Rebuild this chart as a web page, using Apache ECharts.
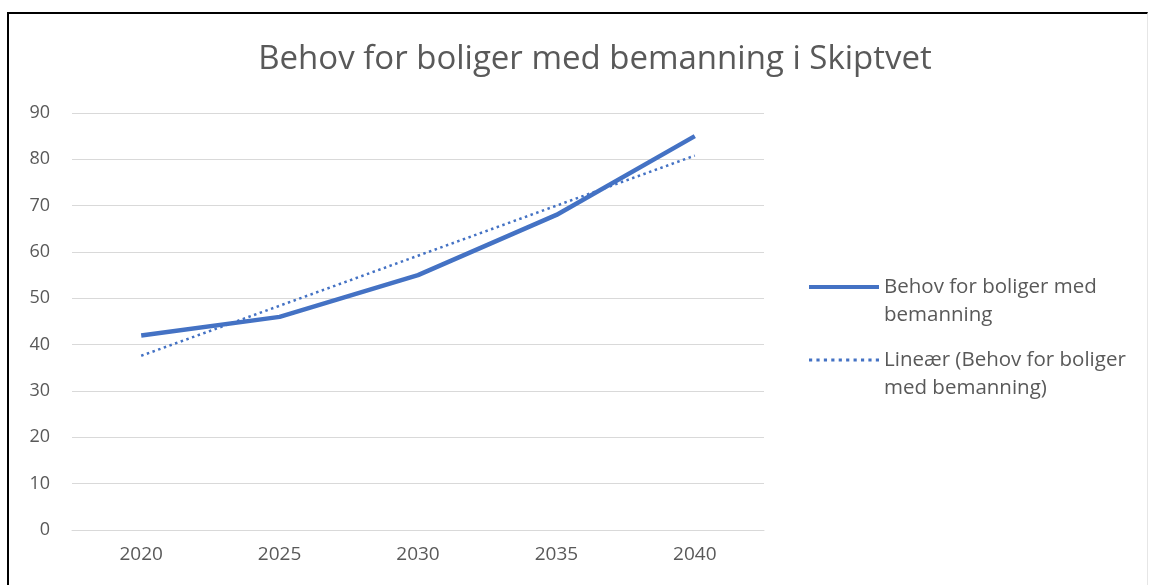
<!DOCTYPE html>
<html>
<head>
<meta charset="utf-8">
<script src="https://cdn.jsdelivr.net/npm/echarts@6/dist/echarts.min.js"></script>
<style>
  html, body { margin: 0; padding: 0; background: #fff; }
  #frame { position: absolute; left: 7px; top: 12px; width: 1138px; height: 600px;
           border-left: 2px solid #000; border-top: 2px solid #000; border-right: 1px solid #e6e6e6; }
  #myChart { position: absolute; left: 0; top: 0; width: 1152px; height: 585px; }
</style>
</head>
<body>
<div id="frame"></div>
<div id="myChart"></div>
<script>
var years = ['2020', '2025', '2030', '2035', '2040'];
var behov = [42, 46, 55, 68, 85];
// linear trend
var trend = [37.6, 48.4, 59.2, 70.0, 80.8];
var seriesName = 'Behov for boliger med bemanning';
var trendName = 'Lineær (Behov for boliger med bemanning)';

var myChart = echarts.init(document.getElementById('myChart'));
var option = {
  animation: false,
  title: {
    text: 'Behov for boliger med bemanning i Skiptvet',
    left: 590, top: 38, textAlign: 'center',
    textStyle: { fontFamily: 'Open Sans', fontWeight: 'normal', fontSize: 33, color: '#595959' }
  },
  legend: {
    orient: 'vertical',
    left: 804, top: 240,
    itemWidth: 70, itemHeight: 14, itemGap: -11,
    data: [
      { name: seriesName, icon: 'path://M0,0H70V4H0Z' },
      { name: trendName, icon: 'path://M0,0h3v3h-3z M7,0h3v3h-3z M14,0h3v3h-3z M21,0h3v3h-3z M28,0h3v3h-3z M35,0h3v3h-3z M42,0h3v3h-3z M49,0h3v3h-3z M56,0h3v3h-3z M63,0h3v3h-3z' }
    ],
    formatter: function(name){
      return name === seriesName ? ' \nBehov for boliger med\nbemanning' : ' \nLineær (Behov for boliger\nmed bemanning)';
    },
    textStyle: { fontFamily: 'Open Sans', fontSize: 20.5, color: '#595959', lineHeight: 28 }
  },
  grid: { left: 72, right: 1152 - 764, top: 113, bottom: 585 - 530 },
  xAxis: {
    type: 'category', data: years,
    axisLine: { lineStyle: { color: '#d9d9d9' } },
    axisTick: { show: false },
    axisLabel: { fontFamily: 'Open Sans', fontSize: 19, color: '#595959', margin: 15 }
  },
  yAxis: {
    type: 'value', min: 0, max: 90, interval: 10,
    axisLine: { show: false }, axisTick: { show: false },
    splitLine: { lineStyle: { color: '#d9d9d9' } },
    axisLabel: { fontFamily: 'Open Sans', fontSize: 18, color: '#595959', margin: 22 }
  },
  series: [
    { name: seriesName, type: 'line', data: behov, symbol: 'none',
      lineStyle: { color: '#4472C4', width: 4.5 }, itemStyle: { color: '#4472C4' } },
    { name: trendName, type: 'line', data: trend, symbol: 'none',
      lineStyle: { color: '#4472C4', width: 2.5, type: [2.5, 3.5] }, itemStyle: { color: '#4472C4' } }
  ]
};
myChart.setOption(option);
</script>
</body>
</html>
